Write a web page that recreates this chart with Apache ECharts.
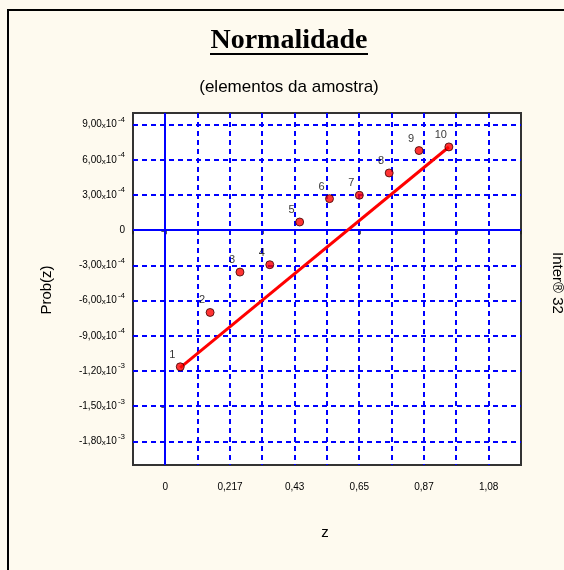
<!DOCTYPE html>
<html>
<head>
<meta charset="utf-8">
<script src="https://cdn.jsdelivr.net/npm/echarts@6/dist/echarts.min.js"></script>
<style>
html,body{margin:0;padding:0;background:#fefaef;}
#c{width:564px;height:570px;}
</style>
</head>
<body>
<div id="c"></div>
<script>
// ---- data ----
var pointIds = ['1','2','3','4','5','6','7','8','9','10'];
var zValues = [0.05, 0.15, 0.25, 0.35, 0.45, 0.55, 0.65, 0.75, 0.85, 0.95];
var probValues = [-0.001163, -0.000700, -0.000356, -0.000293, 0.000071, 0.000270, 0.000299, 0.000489, 0.000680, 0.000711];
var lineZ = [0.05, 0.95];
var lineProb = [-0.00117, 0.00071];
var yTicks = [0.0009, 0.0006, 0.0003, 0, -0.0003, -0.0006, -0.0009, -0.0012, -0.0015, -0.0018];
var yMant = ['9,00', '6,00', '3,00', '0', '-3,00', '-6,00', '-9,00', '-1,20', '-1,50', '-1,80'];
var yExp = ['-4', '-4', '-4', '', '-4', '-4', '-4', '-3', '-3', '-3'];
var xTickValues = [0, 0.2166667, 0.4333333, 0.65, 0.8666667, 1.0833333];
var xTickLabels = ['0', '0,217', '0,43', '0,65', '0,87', '1,08'];

var xStep = 1.3 / 12;
var xMin = -xStep, xMax = 11 * xStep;
var yMin = -0.002, yMax = 0.001;
var xGridValues = [];
for (var k = 0; k <= 10; k++) xGridValues.push(k * xStep);

var chart = echarts.init(document.getElementById('c'));

var scatterData = zValues.map(function (z, i) { return [z, probValues[i], pointIds[i]]; });
var lineData = lineZ.map(function (z, i) { return [z, lineProb[i]]; });

function crisp(v, w) { return (w % 2 === 1) ? Math.round(v - 0.5) + 0.5 : Math.round(v); }

var gridData = [];
yTicks.forEach(function (v) { gridData.push([0, v]); });
xGridValues.forEach(function (v) { gridData.push([1, v]); });

var gridSeries = {
  type: 'custom', silent: true, z: 1, animation: false, clip: false,
  data: gridData,
  encode: { x: -1, y: -1 },
  renderItem: function (params, api) {
    var dir = api.value(0), v = api.value(1);
    var p1, p2, w = 2;
    if (dir === 0) {
      p1 = api.coord([xMin, v]); p2 = api.coord([xMax, v]);
      var y = crisp(p1[1], w);
      p1 = [p1[0], y]; p2 = [p2[0], y];
    } else {
      p1 = api.coord([v, yMax]); p2 = api.coord([v, yMin]);
      var x = crisp(p1[0], w);
      p1 = [x, p1[1]]; p2 = [x, p2[1]];
    }
    return {
      type: 'line',
      shape: { x1: p1[0], y1: p1[1], x2: p2[0], y2: p2[1] },
      style: { stroke: '#0000ff', lineWidth: w, lineDash: v === 0 ? null : [5, 4], fill: null }
    };
  }
};

chart.setOption({
  backgroundColor: '#fefaef',
  animation: false,
  grid: { left: 133, top: 113, right: 43, bottom: 105, show: true, backgroundColor: '#ffffff', borderColor: '#333333', borderWidth: 2 },
  graphic: [
    { type: 'rect', shape: { x: 8, y: 10, width: 800, height: 800 }, style: { fill: 'none', stroke: '#000000', lineWidth: 2 }, silent: true },
    { type: 'text', x: 289, y: 41, style: { text: 'Normalidade', font: 'bold 28px "Liberation Serif", "Times New Roman", serif', fill: '#000', textAlign: 'center', textVerticalAlign: 'middle' } },
    { type: 'rect', shape: { x: 210, y: 53, width: 158, height: 2 }, style: { fill: '#000' } },
    { type: 'text', x: 289, y: 87, style: { text: '(elementos da amostra)', font: '17px "Liberation Sans", Arial, sans-serif', fill: '#000', textAlign: 'center', textVerticalAlign: 'middle' } },
    { type: 'text', x: 47, y: 290, rotation: Math.PI / 2, style: { text: 'Prob(z)', font: '15px "Liberation Sans", Arial, sans-serif', fill: '#000', textAlign: 'center', textVerticalAlign: 'middle' } },
    { type: 'text', x: 325, y: 533, style: { text: 'z', font: '15px "Liberation Sans", Arial, sans-serif', fill: '#000', textAlign: 'center', textVerticalAlign: 'middle' } },
    { type: 'text', x: 557, y: 252, rotation: -Math.PI / 2, style: { text: 'Inter® 32', font: '15px "Liberation Sans", Arial, sans-serif', fill: '#000', textAlign: 'left', textVerticalAlign: 'middle' } }
  ],
  xAxis: {
    type: 'value', min: xMin, max: xMax, interval: xStep,
    axisLine: { show: false },
    axisTick: { show: true, length: 4, lineStyle: { color: '#222', width: 1.5 } },
    splitLine: { show: false },
    axisLabel: {
      margin: 17, color: '#000', fontSize: 10, fontFamily: '"Liberation Sans", Arial, sans-serif',
      showMinLabel: true, showMaxLabel: true,
      formatter: function (v) {
        for (var i = 0; i < xTickValues.length; i++) {
          if (Math.abs(v - xTickValues[i]) < 1e-4) return xTickLabels[i];
        }
        return '';
      }
    }
  },
  yAxis: {
    type: 'value', min: yMin, max: yMax,
    axisLine: { show: false },
    splitLine: { show: false },
    axisTick: { show: true, length: 4, customValues: yTicks, lineStyle: { color: '#222', width: 1.5 } },
    axisLabel: {
      customValues: yTicks, margin: 8, color: '#000',
      formatter: function (v) {
        var best = 0, d = 1;
        for (var i = 0; i < yTicks.length; i++) {
          var dd = Math.abs(v - yTicks[i]);
          if (dd < d) { d = dd; best = i; }
        }
        if (yExp[best] === '') return '{m|' + yMant[best] + '}';
        return '{m|' + yMant[best] + '}{x|x}{m|10}{s|' + yExp[best] + '}';
      },
      rich: {
        m: { fontSize: 10, fontFamily: '"Liberation Sans", Arial, sans-serif', color: '#000' },
        x: { fontSize: 8, fontFamily: '"Liberation Sans", Arial, sans-serif', color: '#000', padding: [3, 0, 0, 0] },
        s: { fontSize: 8, fontFamily: '"Liberation Sans", Arial, sans-serif', color: '#000', padding: [0, 0, 10, 1] }
      }
    }
  },
  series: [
    gridSeries,
    {
      type: 'line', data: lineData, showSymbol: false, symbol: 'none', z: 3,
      lineStyle: { color: '#ff0000', width: 3 }
    },
    {
      type: 'scatter', data: scatterData, symbol: 'circle', symbolSize: 8, z: 4,
      itemStyle: { color: '#ff0000', borderColor: '#3a0000', borderWidth: 1 },
      label: {
        show: true, position: 'top', distance: 2, offset: [-8, 0],
        formatter: function (p) { return p.data[2]; },
        color: '#000', fontSize: 11, fontFamily: '"Liberation Sans", Arial, sans-serif'
      }
    }
  ]
});
</script>
</body>
</html>
